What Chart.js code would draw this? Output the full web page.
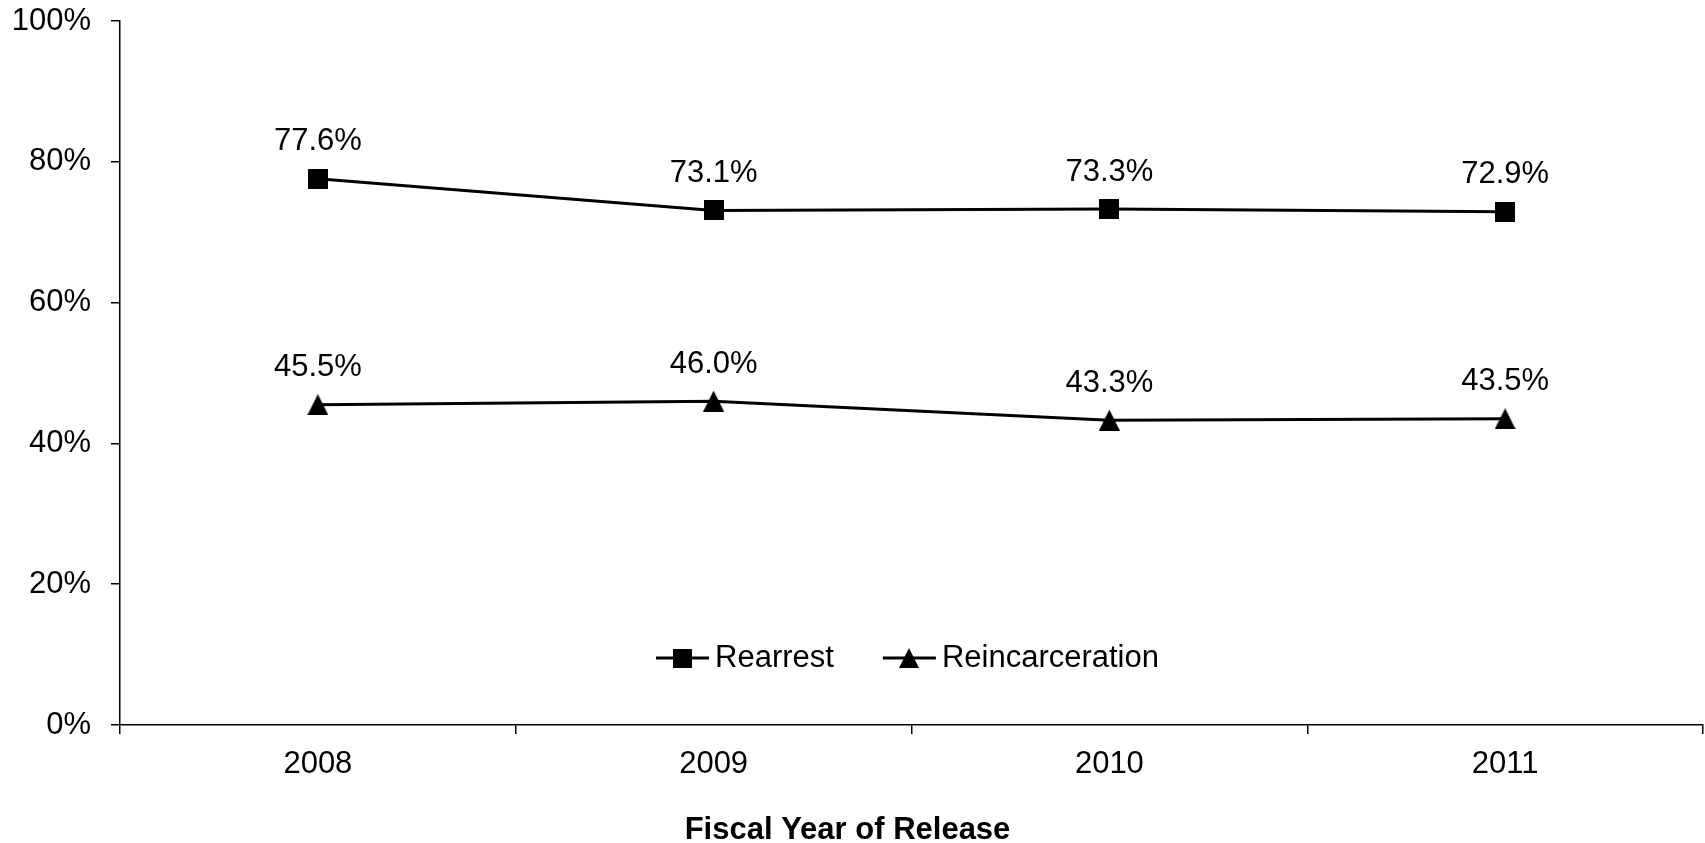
<!DOCTYPE html>
<html><head><meta charset="utf-8">
<script src="https://cdn.jsdelivr.net/npm/chart.js@4.4.1/dist/chart.umd.min.js"></script>
<style>html,body{margin:0;padding:0;background:#fff;} canvas{display:block;}</style>
</head><body>
<canvas id="c" width="1705" height="843"></canvas>
<script>
// ---- data ----
const categories = ['2008', '2009', '2010', '2011'];
const rearrest = [77.6, 73.1, 73.3, 72.9];
const reincarceration = [45.5, 46.0, 43.3, 43.5];
const seriesNames = ['Rearrest', 'Reincarceration'];
const yTickValues = [0, 20, 40, 60, 80, 100];
const xAxisTitle = 'Fiscal Year of Release';

// ---- styling ----
const FONT = "'Liberation Sans', Arial, sans-serif";
const FS = 31;

function makeSquare(s) {
  const c = document.createElement('canvas'); c.width = s; c.height = s;
  const x = c.getContext('2d'); x.fillStyle = '#000'; x.fillRect(0, 0, s, s); return c;
}
function makeTriangle(s) {
  const c = document.createElement('canvas'); c.width = s; c.height = s;
  const x = c.getContext('2d'); x.fillStyle = '#000';
  x.beginPath(); x.moveTo(s / 2, 0); x.lineTo(s, s); x.lineTo(0, s); x.closePath(); x.fill(); return c;
}
const squareImg = makeSquare(20);
const triImg = makeTriangle(21);
const legendSquare = makeSquare(19);
const legendTri = makeTriangle(20);

const dataLabels = {
  id: 'dataLabels',
  afterDatasetsDraw(chart) {
    const ctx = chart.ctx; ctx.save();
    ctx.font = FS + 'px ' + FONT; ctx.fillStyle = '#000';
    ctx.textAlign = 'center'; ctx.textBaseline = 'middle';
    chart.data.datasets.forEach((ds, i) => {
      chart.getDatasetMeta(i).data.forEach((pt, j) => {
        ctx.fillText(ds.data[j].toFixed(1) + '%', pt.x, pt.y - 37);
      });
    });
    ctx.restore();
  }
};

const customLegend = {
  id: 'customLegend',
  afterDraw(chart) {
    const ctx = chart.ctx; ctx.save();
    ctx.font = FS + 'px ' + FONT; ctx.fillStyle = '#000'; ctx.strokeStyle = '#000';
    ctx.textBaseline = 'middle'; ctx.textAlign = 'left';
    const lineLen = 53, gap = 6, itemGap = 49;
    const icons = [legendSquare, legendTri];
    const widths = chart.data.datasets.map(ds => ctx.measureText(ds.label).width);
    let total = 0;
    widths.forEach((w, i) => { total += lineLen + gap + w + (i < widths.length - 1 ? itemGap : 0); });
    const ca = chart.chartArea;
    let x = (ca.left + ca.right) / 2 - total / 2 - 4;
    const y = 658;
    chart.data.datasets.forEach((ds, i) => {
      ctx.lineWidth = 3;
      ctx.beginPath(); ctx.moveTo(x, y); ctx.lineTo(x + lineLen, y); ctx.stroke();
      const img = icons[i];
      ctx.drawImage(img, Math.round(x + lineLen / 2 - img.width / 2), Math.round(y - img.height / 2));
      ctx.fillText(ds.label, x + lineLen + gap, y);
      x += lineLen + gap + widths[i] + itemGap;
    });
    ctx.restore();
  }
};

const bottomTitle = {
  id: 'bottomTitle',
  afterDraw(chart) {
    const ctx = chart.ctx; ctx.save();
    ctx.font = 'bold ' + FS + 'px ' + FONT; ctx.fillStyle = '#000';
    ctx.textAlign = 'center'; ctx.textBaseline = 'middle';
    ctx.fillText(xAxisTitle, chart.width / 2 - 5, 830);
    ctx.restore();
  }
};

new Chart(document.getElementById('c'), {
  type: 'line',
  data: {
    labels: categories,
    datasets: [
      { label: seriesNames[0], data: rearrest, borderColor: '#000', borderWidth: 3,
        pointStyle: squareImg, pointRadius: 10, backgroundColor: '#000', tension: 0 },
      { label: seriesNames[1], data: reincarceration, borderColor: '#000', borderWidth: 3,
        pointStyle: triImg, pointRadius: 10, backgroundColor: '#000', tension: 0 }
    ]
  },
  options: {
    responsive: false,
    animation: false,
    layout: { autoPadding: false, padding: { top: 21, right: 2, left: 0, bottom: 0 } },
    plugins: { legend: { display: false }, tooltip: { enabled: false }, title: { display: false } },
    scales: {
      x: {
        type: 'category',
        offset: true,
        grid: { display: true, offset: true, drawOnChartArea: false, drawTicks: true, tickLength: 9, color: '#000', lineWidth: 1.5 },
        border: { display: true, color: '#000', width: 1.5 },
        ticks: { color: '#000', font: { family: FONT, size: FS }, padding: 12, maxRotation: 0 },
        afterFit: s => { s.height = 118; s.paddingLeft = 0; s.paddingRight = 0; s.paddingTop = 0; s.paddingBottom = 0; }
      },
      y: {
        min: 0, max: 100,
        afterBuildTicks: s => { s.ticks = yTickValues.map(v => ({ value: v })); },
        grid: { display: true, drawOnChartArea: false, drawTicks: true, tickLength: 9, color: '#000', lineWidth: 1.5 },
        border: { display: true, color: '#000', width: 1.5 },
        ticks: { color: '#000', font: { family: FONT, size: FS }, padding: 20, callback: v => v + '%' },
        afterFit: s => { s.width = 120; s.paddingLeft = 0; s.paddingRight = 0; s.paddingTop = 0; s.paddingBottom = 0; }
      }
    }
  },
  plugins: [dataLabels, customLegend, bottomTitle]
});
</script>
</body></html>
